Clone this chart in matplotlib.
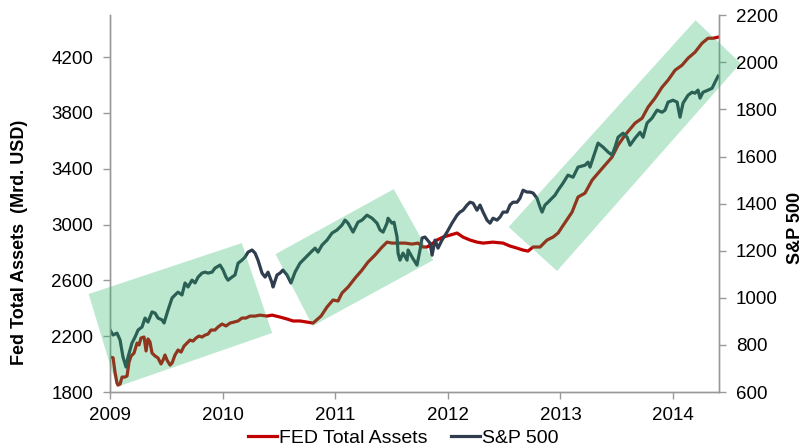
import matplotlib
matplotlib.use("Agg")
import matplotlib.pyplot as plt
from matplotlib.patches import Polygon

plt.rcParams["font.family"] = ["Liberation Sans", "DejaVu Sans"]

# Fed total assets (Mrd. USD), decimal year -> value
fed_years = [2009.000, 2009.027, 2009.044, 2009.062, 2009.071, 2009.089, 2009.107, 2009.133,
             2009.151, 2009.169, 2009.187, 2009.213, 2009.240, 2009.258, 2009.275, 2009.302,
             2009.320, 2009.337, 2009.355, 2009.373, 2009.400, 2009.426, 2009.453, 2009.471,
             2009.488, 2009.506, 2009.533, 2009.551, 2009.577, 2009.604, 2009.631, 2009.657,
             2009.684, 2009.710, 2009.737, 2009.764, 2009.790, 2009.817, 2009.844, 2009.870,
             2009.897, 2009.932, 2009.959, 2009.995, 2010.030, 2010.066, 2010.101, 2010.137,
             2010.172, 2010.208, 2010.243, 2010.288, 2010.332, 2010.394, 2010.439, 2010.510,
             2010.572, 2010.625, 2010.687, 2010.750, 2010.803, 2010.874, 2010.927, 2010.980,
             2011.025, 2011.060, 2011.114, 2011.176, 2011.238, 2011.291, 2011.353, 2011.416,
             2011.460, 2011.504, 2011.558, 2011.620, 2011.682, 2011.735, 2011.780, 2011.815,
             2011.869, 2011.904, 2011.957, 2012.019, 2012.082, 2012.135, 2012.197, 2012.259,
             2012.313, 2012.401, 2012.490, 2012.552, 2012.615, 2012.668, 2012.712, 2012.757,
             2012.819, 2012.881, 2012.934, 2012.979, 2013.014, 2013.050, 2013.103, 2013.156,
             2013.218, 2013.281, 2013.334, 2013.396, 2013.458, 2013.512, 2013.574, 2013.663,
             2013.725, 2013.778, 2013.840, 2013.902, 2013.956, 2014.018, 2014.080, 2014.133,
             2014.195, 2014.258, 2014.311, 2014.356, 2014.400]
fed_assets = [2050, 2045, 1943, 1864, 1850, 1857, 1907, 1907,
              1915, 2015, 2058, 2079, 2151, 2137, 2187, 2194,
              2094, 2180, 2158, 2079, 2058, 2044, 2001, 2029,
              2065, 2029, 1993, 2008, 2065, 2101, 2086, 2129,
              2151, 2172, 2165, 2187, 2201, 2194, 2208, 2215,
              2244, 2244, 2266, 2287, 2273, 2294, 2301, 2309,
              2330, 2330, 2344, 2344, 2351, 2344, 2351, 2337,
              2323, 2309, 2309, 2301, 2294, 2344, 2409, 2459,
              2452, 2509, 2552, 2616, 2674, 2731, 2781, 2839,
              2874, 2867, 2867, 2867, 2860, 2867, 2839, 2839,
              2867, 2889, 2910, 2924, 2939, 2910, 2889, 2874,
              2867, 2874, 2867, 2846, 2831, 2817, 2810, 2839,
              2839, 2889, 2910, 2939, 2982, 3025, 3089, 3197,
              3225, 3318, 3368, 3426, 3483, 3569, 3641, 3727,
              3762, 3841, 3906, 3984, 4035, 4106, 4142, 4192,
              4235, 4300, 4335, 4335, 4343]

# S&P 500 index, decimal year -> value
spx_years = [2009.000, 2009.027, 2009.062, 2009.089, 2009.115, 2009.142, 2009.160, 2009.195,
             2009.222, 2009.249, 2009.284, 2009.311, 2009.337, 2009.373, 2009.400, 2009.426,
             2009.462, 2009.480, 2009.515, 2009.551, 2009.577, 2009.604, 2009.639, 2009.666,
             2009.693, 2009.728, 2009.755, 2009.782, 2009.817, 2009.844, 2009.870, 2009.906,
             2009.932, 2009.977, 2010.004, 2010.030, 2010.048, 2010.083, 2010.110, 2010.137,
             2010.172, 2010.199, 2010.226, 2010.261, 2010.288, 2010.314, 2010.350, 2010.377,
             2010.403, 2010.439, 2010.448, 2010.483, 2010.510, 2010.536, 2010.572, 2010.607,
             2010.643, 2010.687, 2010.732, 2010.776, 2010.821, 2010.847, 2010.883, 2010.927,
             2010.972, 2011.016, 2011.060, 2011.087, 2011.114, 2011.158, 2011.202, 2011.238,
             2011.282, 2011.327, 2011.371, 2011.398, 2011.425, 2011.460, 2011.469, 2011.504,
             2011.522, 2011.549, 2011.558, 2011.575, 2011.602, 2011.638, 2011.647, 2011.682,
             2011.709, 2011.726, 2011.753, 2011.771, 2011.797, 2011.842, 2011.860, 2011.886,
             2011.913, 2011.948, 2011.993, 2012.037, 2012.082, 2012.108, 2012.135, 2012.171,
             2012.197, 2012.224, 2012.259, 2012.286, 2012.313, 2012.348, 2012.375, 2012.401,
             2012.437, 2012.464, 2012.490, 2012.526, 2012.552, 2012.579, 2012.615, 2012.641,
             2012.668, 2012.703, 2012.730, 2012.757, 2012.792, 2012.819, 2012.837, 2012.863,
             2012.890, 2012.925, 2012.952, 2012.979, 2013.023, 2013.067, 2013.112, 2013.156,
             2013.218, 2013.245, 2013.263, 2013.289, 2013.334, 2013.378, 2013.423, 2013.458,
             2013.485, 2013.512, 2013.556, 2013.592, 2013.618, 2013.663, 2013.707, 2013.734,
             2013.769, 2013.813, 2013.858, 2013.902, 2013.929, 2013.956, 2014.000, 2014.036,
             2014.062, 2014.089, 2014.133, 2014.169, 2014.195, 2014.222, 2014.240, 2014.266,
             2014.311, 2014.347, 2014.373, 2014.400]
spx_index = [863, 842, 850, 821, 749, 706, 749, 808,
             833, 863, 876, 914, 897, 940, 935, 914,
             906, 893, 948, 999, 1012, 1024, 1012, 1063,
             1046, 1075, 1063, 1088, 1105, 1109, 1105, 1109,
             1126, 1139, 1118, 1088, 1075, 1088, 1097, 1147,
             1160, 1173, 1194, 1203, 1190, 1160, 1105, 1088,
             1109, 1063, 1046, 1097, 1105, 1118, 1097, 1063,
             1109, 1147, 1169, 1190, 1211, 1194, 1224, 1245,
             1275, 1288, 1309, 1330, 1317, 1279, 1321, 1330,
             1351, 1338, 1317, 1288, 1279, 1317, 1338, 1317,
             1321, 1258, 1190, 1160, 1190, 1160, 1203, 1173,
             1152, 1139, 1203, 1254, 1258, 1232, 1181, 1245,
             1211, 1245, 1279, 1317, 1351, 1364, 1372, 1394,
             1406, 1402, 1372, 1394, 1364, 1330, 1317, 1338,
             1330, 1343, 1364, 1364, 1394, 1406, 1406, 1423,
             1457, 1449, 1449, 1445, 1423, 1385, 1364, 1394,
             1406, 1423, 1436, 1457, 1487, 1521, 1512, 1555,
             1563, 1576, 1555, 1593, 1657, 1640, 1619, 1606,
             1640, 1682, 1699, 1682, 1648, 1678, 1703, 1682,
             1742, 1763, 1797, 1788, 1797, 1831, 1839, 1831,
             1767, 1827, 1860, 1873, 1869, 1882, 1848, 1873,
             1882, 1890, 1916, 1941]

# highlight bands (corners in year / left axis units)
band_1 = [(2008.81, 2502), (2010.17, 2867), (2010.44, 2223), (2009.06, 1836)]
band_2 = [(2010.47, 2788), (2011.52, 3254), (2011.87, 2745), (2010.80, 2273)]
band_3 = [(2012.54, 2982), (2014.20, 4464), (2014.60, 4156), (2012.97, 2667)]

year_ticks = [2009, 2010, 2011, 2012, 2013, 2014]

fig, ax = plt.subplots(figsize=(8.09, 4.48), dpi=100)
fig.subplots_adjust(left=0.136, right=0.889, bottom=0.125, top=0.966)
ax2 = ax.twinx()

l1, = ax.plot(fed_years, fed_assets, color="#C00000", lw=2.3, label="FED Total Assets")
l2, = ax2.plot(spx_years, spx_index, color="#2F3D4F", lw=2.3, label="S&P 500")

for band in [band_1, band_2, band_3]:
    p = Polygon(band, closed=True, transform=ax.transData, facecolor=(35 / 255, 182 / 255, 102 / 255),
                alpha=0.3, edgecolor="none", clip_on=False, zorder=5)
    ax2.add_patch(p)

ax.set_xlim(2009, 2014.41)
ax.set_ylim(1800, 4500)
ax2.set_ylim(600, 2200)
ax.set_xticks(year_ticks)
ax.set_xticklabels([str(y) for y in year_ticks])
ax.set_yticks(range(1800, 4201, 400))
ax2.set_yticks(range(600, 2201, 200))

for a in [ax, ax2]:
    a.spines["top"].set_visible(False)
    for s in ["left", "right", "bottom"]:
        a.spines[s].set_color("#999999")
        a.spines[s].set_linewidth(1.0)
    a.tick_params(axis="both", labelsize=13.5, color="#999999", length=5, width=1, direction="out")
ax.tick_params(axis="y", pad=7)
ax2.tick_params(axis="y", pad=7)
ax.tick_params(axis="x", pad=6)

ax.set_ylabel("Fed Total Assets  (Mrd. USD)", fontsize=13, fontweight="bold")
ax2.set_ylabel("S&P 500", fontsize=13, fontweight="bold")
ax.yaxis.set_label_coords(-0.134, 0.398)
ax2.yaxis.set_label_coords(1.111, 0.435)

fig.legend([l1, l2], ["FED Total Assets", "S&P 500"], loc="center", bbox_to_anchor=(0.498, 0.022),
           ncol=2, frameon=False, fontsize=14, handlelength=1.5, handletextpad=0.1,
           columnspacing=1.2)

fig.savefig("out.png", dpi=100)
